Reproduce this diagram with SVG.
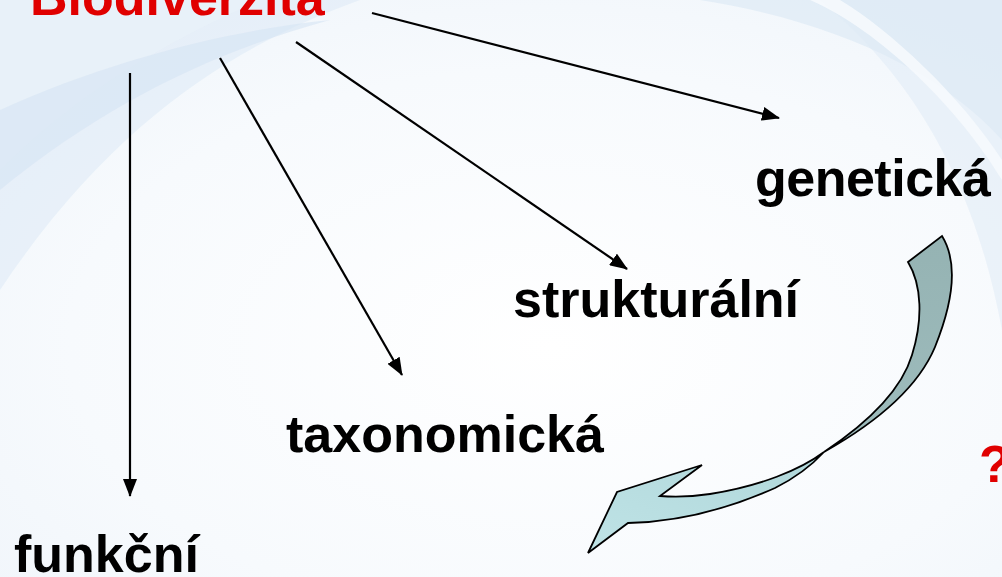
<svg xmlns="http://www.w3.org/2000/svg" width="1002" height="577" viewBox="0 0 1002 577">
  <style>
    .label { font-family: "Liberation Sans", Arial, sans-serif; font-weight: bold; font-size: 52px; fill: #000; }
    .title { fill: #e00000; }
    .link { stroke: #000; stroke-width: 2.2; fill: none; marker-end: url(#head); }
  </style>
  <defs>
    <marker id="head" viewBox="0 0 18 14" refX="17" refY="7" markerWidth="18" markerHeight="14" markerUnits="userSpaceOnUse" orient="auto">
      <path d="M0,0 L18,7 L0,14 Z" fill="#000"/>
    </marker>
    <radialGradient id="bg" cx="0.55" cy="0.6" r="0.8">
      <stop offset="0" stop-color="#ffffff"/>
      <stop offset="0.6" stop-color="#f7fafd"/>
      <stop offset="1" stop-color="#eef4fa"/>
    </radialGradient>
    <linearGradient id="ribbonBack" x1="0" y1="0" x2="0" y2="1">
      <stop offset="0" stop-color="#95b3b3"/>
      <stop offset="1" stop-color="#9ebcbd"/>
    </linearGradient>
    <linearGradient id="ribbonFront" x1="1" y1="0" x2="0" y2="1">
      <stop offset="0" stop-color="#b0d7da"/>
      <stop offset="1" stop-color="#bfe3e6"/>
    </linearGradient>
  </defs>

  <!-- backdrop with soft swooshes -->
  <rect width="1002" height="577" fill="url(#bg)"/>
  <g id="swooshes" fill="#dde9f5">
    <path d="M0,0 L360,0 C250,40 120,110 0,290 Z" opacity="0.55"/>
    <path d="M0,0 L260,0 C170,40 80,90 0,170 Z" fill="#e9f1f9" opacity="0.8"/>
    <path d="M0,110 C110,60 230,30 330,20 C220,50 110,100 0,190 Z" fill="#d6e5f3" opacity="0.6"/>
    <path d="M700,0 L1002,0 L1002,140 C940,70 830,20 700,0 Z" opacity="0.7"/>
    <path d="M820,0 L1002,0 L1002,330 C980,210 930,90 820,0 Z" opacity="0.5"/>
    <path d="M810,0 C880,30 960,110 1002,180 L1002,160 C960,95 890,30 840,0 Z" fill="#f6f9fd" opacity="0.9"/>
  </g>

  <!-- connectors -->
  <g id="connectors">
    <line class="link" x1="130" y1="73" x2="130" y2="496"/>
    <line class="link" x1="220" y1="58" x2="402" y2="375"/>
    <line class="link" x1="296" y1="42" x2="627" y2="269"/>
    <line class="link" x1="372" y1="13" x2="779" y2="118"/>
  </g>

  <!-- curved ribbon arrow from genetická back toward taxonomická -->
  <g id="ribbon-arrow" stroke="#000" stroke-width="1.8" stroke-linejoin="miter">
    <path fill="url(#ribbonBack)" d="M942,236 C958,262 954,300 935,347 C917,390 872,425 824,452 C860,428 900,395 912,355 C923,320 922,285 908,262 Z"/>
    <path fill="url(#ribbonFront)" d="M824,452 C800,470 760,486 710,494 C690,497 672,497 660,496 L702,465 L617,492 L588,553 L628,523 C680,522 730,508 775,488 C795,478 812,465 824,452 Z"/>
  </g>

  <!-- nodes -->
  <g id="node-biodiverzita"><text class="label title" x="30" y="15">Biodiverzita</text></g>
  <g id="node-geneticka"><text class="label" x="755" y="196" letter-spacing="-0.5">genetická</text></g>
  <g id="node-strukturalni"><text class="label" x="513" y="317">strukturální</text></g>
  <g id="node-taxonomicka"><text class="label" x="286" y="452">taxonomická</text></g>
  <g id="node-funkcni"><text class="label" x="14" y="572">funkční</text></g>
  <g id="node-question"><text class="label title" x="979" y="482">?</text></g>
</svg>
